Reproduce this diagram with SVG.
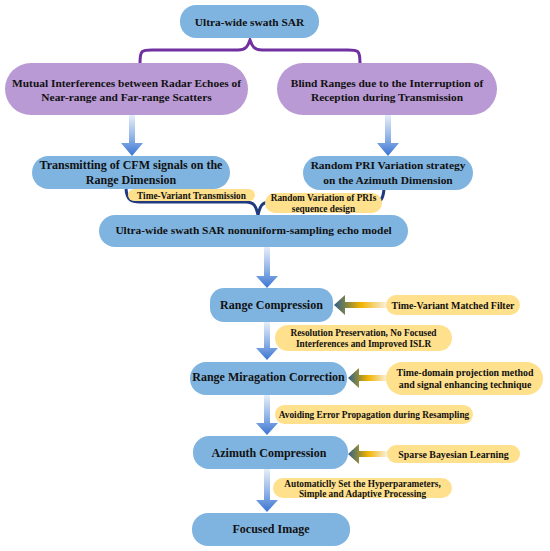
<svg xmlns="http://www.w3.org/2000/svg" width="550" height="551" viewBox="0 0 550 551">
<defs>
<linearGradient id="gv" x1="0" y1="0" x2="0" y2="1">
<stop offset="0" stop-color="#e6eef9"/>
<stop offset="0.55" stop-color="#8fb2e6"/>
<stop offset="1" stop-color="#3a74d2"/>
</linearGradient>
<linearGradient id="gh" x1="0" y1="0" x2="1" y2="0">
<stop offset="0" stop-color="#2f5f8f"/>
<stop offset="0.22" stop-color="#7f8445"/>
<stop offset="0.5" stop-color="#f3b300"/>
<stop offset="1" stop-color="#f7f4ec"/>
</linearGradient>
<style>
.b{fill:#80b4e0}
.p{fill:#b99ad4}
.y{fill:#ffe08c}
text{font-family:"Liberation Serif","Times New Roman",serif;font-weight:bold;fill:#111;text-anchor:middle}
.t{font-size:12px}
.u{font-size:11.4px}
.s{font-size:9.3px}
.r{font-size:9.9px}
.va{fill:url(#gv)}
.ha{fill:url(#gh)}
</style>
</defs>
<g id="connectors">
<path d="M140 63 C140 50 142 50 152 50 L238 50 C246 50 248 46 250 40 C252 46 254 50 262 50 L348 50 C358 50 360 50 360 63" fill="none" stroke="#7030a0" stroke-width="3"/>
<path d="M126 189 C127 200 131 202 140 202 L246 202 C254 202 256 206 258 215 C260 206 262 202 270 202 L372 202 C381 202 383 200 384 189" fill="none" stroke="#1f3a80" stroke-width="3"/>
<path class="va" d="M129 115 L135 115 L135 143 L143 143 L132 156 L121 143 L129 143 Z"/>
<path class="va" d="M385 115 L391 115 L391 143 L399 143 L388 156 L377 143 L385 143 Z"/>
<path class="va" d="M264 247 L270 247 L270 276 L278 276 L267 288 L256 276 L264 276 Z"/>
<path class="va" d="M264 322 L270 322 L270 348 L278 348 L267 360 L256 348 L264 348 Z"/>
<path class="va" d="M264 395 L270 395 L270 423 L278 423 L267 435 L256 423 L264 423 Z"/>
<path class="va" d="M264 469 L270 469 L270 500 L278 500 L267 512 L256 500 L264 500 Z"/>
<path class="ha" d="M334 305 L345 295 L345 302 L388 302 L388 308 L345 308 L345 315 Z"/>
<path class="ha" d="M348 378 L359 368 L359 375 L388 375 L388 381 L359 381 L359 388 Z"/>
<path class="ha" d="M348 454 L359 444 L359 451 L388 451 L388 457 L359 457 L359 464 Z"/>
</g>
<g id="n_top"><rect class="b" x="180" y="5" width="139" height="33" rx="16"/><text class="u" x="249.5" y="25.5">Ultra-wide swath SAR</text></g>
<g id="n_mutual"><rect class="p" x="5" y="63" width="243" height="52" rx="26"/><text class="u" x="126.5" y="87">Mutual Interferences between Radar Echoes of</text><text class="u" x="126.5" y="101">Near-range and Far-range Scatters</text></g>
<g id="n_blind"><rect class="p" x="277" y="63" width="220" height="52" rx="26"/><text class="u" x="387" y="87">Blind Ranges due to the Interruption of</text><text class="u" x="387" y="101">Reception during Transmission</text></g>
<g id="n_cfm"><rect class="b" x="32" y="156" width="198" height="33" rx="16.5"/><text class="t" x="131" y="169">Transmitting of CFM signals on the</text><text class="t" x="131" y="184">Range Dimension</text></g>
<g id="n_pri"><rect class="b" x="303" y="156" width="170" height="34" rx="17"/><text class="u" x="388" y="169">Random PRI Variation strategy</text><text class="u" x="388" y="184">on the Azimuth Dimension</text></g>
<g id="l_tvt"><rect class="y" x="128" y="189" width="127" height="12" rx="6"/><text class="s" x="191.5" y="198.5">Time-Variant Transmission</text></g>
<g id="l_rv"><rect class="y" x="265" y="193" width="117" height="20" rx="10"/><text class="s" x="323.5" y="201">Random Variation of PRIs</text><text class="s" x="323.5" y="212">sequence design</text></g>
<g id="n_echo"><rect class="b" x="99" y="215" width="309" height="32" rx="16"/><text class="u" x="253.5" y="234">Ultra-wide swath SAR nonuniform-sampling echo model</text></g>
<g id="n_rc"><rect class="b" x="210" y="288" width="123" height="34" rx="14"/><text class="t" x="271.5" y="309">Range Compression</text></g>
<g id="l_tvmf"><rect class="y" x="386" y="295" width="134" height="20" rx="10"/><text class="r" x="453" y="308.5">Time-Variant Matched Filter</text></g>
<g id="l_res"><rect class="y" x="275" y="325" width="177" height="26" rx="13"/><text class="s" x="363.5" y="336">Resolution Preservation,  No Focused</text><text class="s" x="363.5" y="347">Interferences and Improved ISLR</text></g>
<g id="n_rmc"><rect class="b" x="190" y="362" width="157" height="33" rx="16"/><text class="t" x="268.5" y="381">Range Miragation Correction</text></g>
<g id="l_tdp"><rect class="y" x="386" y="362" width="157" height="33" rx="16.5"/><text class="r" x="465" y="375.5">Time-domain projection method</text><text class="r" x="465" y="388">and signal enhancing technique</text></g>
<g id="l_avoid"><rect class="y" x="275" y="405" width="198" height="19" rx="9.5"/><text class="s" x="374" y="418">Avoiding Error Propagation during Resampling</text></g>
<g id="n_az"><rect class="b" x="193" y="436" width="155" height="33" rx="16"/><text class="t" x="269" y="457">Azimuth Compression</text></g>
<g id="l_sbl"><rect class="y" x="387" y="445" width="133" height="18" rx="9"/><text class="r" x="453.5" y="457.5">Sparse Bayesian Learning</text></g>
<g id="l_auto"><rect class="y" x="273" y="478" width="179" height="20" rx="10"/><text class="s" x="362.5" y="486.5">Automaticlly Set the Hyperparameters,</text><text class="s" x="362.5" y="497">Simple and Adaptive Processing</text></g>
<g id="n_fi"><rect class="b" x="192" y="513" width="158" height="33" rx="16"/><text class="t" x="271" y="533">Focused Image</text></g>
</svg>
